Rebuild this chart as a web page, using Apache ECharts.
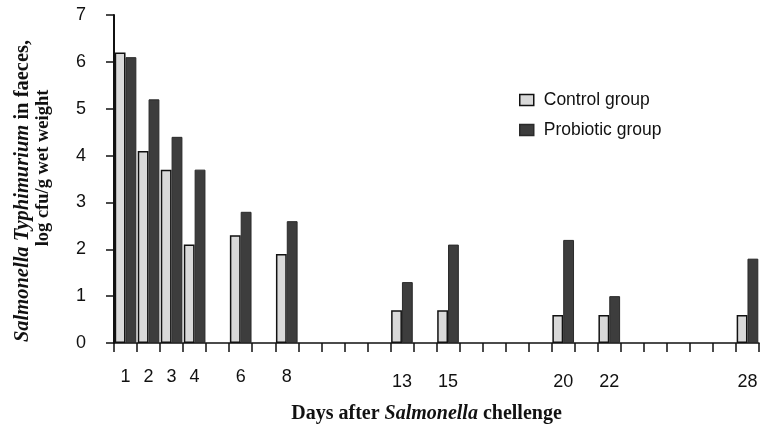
<!DOCTYPE html>
<html>
<head>
<meta charset="utf-8">
<script src="https://cdn.jsdelivr.net/npm/echarts@6/dist/echarts.min.js"></script>
<style>
  html, body { margin: 0; padding: 0; background: #ffffff; }
  #chart { width: 763px; height: 429px; }
</style>
</head>
<body>
<div id="chart"></div>
<script>
// All days on the axis (1..28)
const days = [1,2,3,4,5,6,7,8,9,10,11,12,13,14,15,16,17,18,19,20,21,22,23,24,25,26,27,28];
// Days that were sampled / labelled
const sampledDays = [1, 2, 3, 4, 6, 8, 13, 15, 20, 22, 28];
const controlValues   = [6.2, 4.1, 3.7, 2.1, 2.3, 1.9, 0.7, 0.7, 0.6, 0.6, 0.6];
const probioticValues = [6.1, 5.2, 4.4, 3.7, 2.8, 2.6, 1.3, 2.1, 2.2, 1.0, 1.8];
const yTicks = [0, 1, 2, 3, 4, 5, 6, 7];

function expand(values) {
  return days.map(d => {
    const i = sampledDays.indexOf(d);
    return i >= 0 ? values[i] : null;
  });
}

const chart = echarts.init(document.getElementById('chart'), null, { renderer: 'canvas' });
const sans = 'Liberation Sans, Arial, sans-serif';
const serif = 'Liberation Serif, Times New Roman, serif';

chart.setOption({
  animation: false,
  backgroundColor: '#ffffff',
  grid: { left: 114, right: 4, top: 15, bottom: 83, containLabel: false },
  legend: {
    left: 519, top: 91,
    padding: 0,
    orient: 'vertical',
    icon: 'rect',
    itemWidth: 14, itemHeight: 11, itemGap: 12,
    data: ['Control group', 'Probiotic group'],
    itemStyle: { borderWidth: 1.5 },
    textStyle: { fontFamily: sans, fontSize: 17.5, color: '#111', lineHeight: 18, padding: [0, 0, 0, 5] }
  },
  xAxis: {
    type: 'category',
    data: days,
    boundaryGap: true,
    name: '{b|Days after }{bi|Salmonella}{b| chellenge}',
    nameLocation: 'middle',
    nameGap: 61,
    nameTextStyle: {
      rich: {
        b:  { fontFamily: serif, fontSize: 20, fontWeight: 'bold', color: '#111' },
        bi: { fontFamily: serif, fontSize: 20, fontWeight: 'bold', fontStyle: 'italic', color: '#111' }
      },
      padding: [0, 20, 0, 0]
    },
    axisLine: { show: true, lineStyle: { color: '#111', width: 1.5 } },
    axisTick: { show: true, interval: 0, length: 9, lineStyle: { color: '#111', width: 1.5 } },
    axisLabel: {
      interval: (idx, val) => sampledDays.indexOf(Number(val)) >= 0,
      formatter: v => Number(v) >= 13 ? '{low|' + v + '}' : '{hi|' + v + '}',
      rich: {
        hi:  { fontFamily: sans, fontSize: 18, color: '#111' },
        low: { fontFamily: sans, fontSize: 18, color: '#111', padding: [5, 0, 0, 0] }
      },
      margin: 25
    },
    splitLine: { show: false }
  },
  yAxis: {
    type: 'value',
    min: 0, max: 7, interval: 1,
    name: '{bi|Salmonella Typhimurium}{e| in faeces,}\n{c|log cfu/g wet weight}',
    nameLocation: 'middle',
    nameRotate: 90,
    nameGap: 60,
    nameTextStyle: {
      rich: {
        bi: { fontFamily: serif, fontSize: 20.5, fontWeight: 'bold', fontStyle: 'italic', color: '#111', lineHeight: 21 },
        e:  { fontFamily: serif, fontSize: 20.5, fontWeight: 'bold', color: '#111', lineHeight: 21, padding: [0, 24, 0, 0] },
        c:  { fontFamily: serif, fontSize: 18.5, fontWeight: 'bold', color: '#111', lineHeight: 21, padding: [0, 0, 0, 22] }
      }
    },
    axisLine: { show: true, lineStyle: { color: '#111', width: 2 } },
    axisTick: { show: true, length: 8, lineStyle: { color: '#111', width: 1.5 } },
    axisLabel: {
      fontFamily: sans, fontSize: 18, color: '#111', margin: 28,
      formatter: v => yTicks.indexOf(v) >= 0 ? String(v) : ''
    },
    splitLine: { show: false }
  },
  series: [
    {
      name: 'Control group',
      type: 'bar',
      data: expand(controlValues),
      barGap: '0%',
      barCategoryGap: '6%',
      itemStyle: { color: '#d9d9d9', borderColor: '#111', borderWidth: 1.5 }
    },
    {
      name: 'Probiotic group',
      type: 'bar',
      data: expand(probioticValues),
      barGap: '0%',
      barCategoryGap: '6%',
      itemStyle: { color: '#3d3d3d', borderColor: '#2a2a2a', borderWidth: 1 }
    }
  ]
});
</script>
</body>
</html>
